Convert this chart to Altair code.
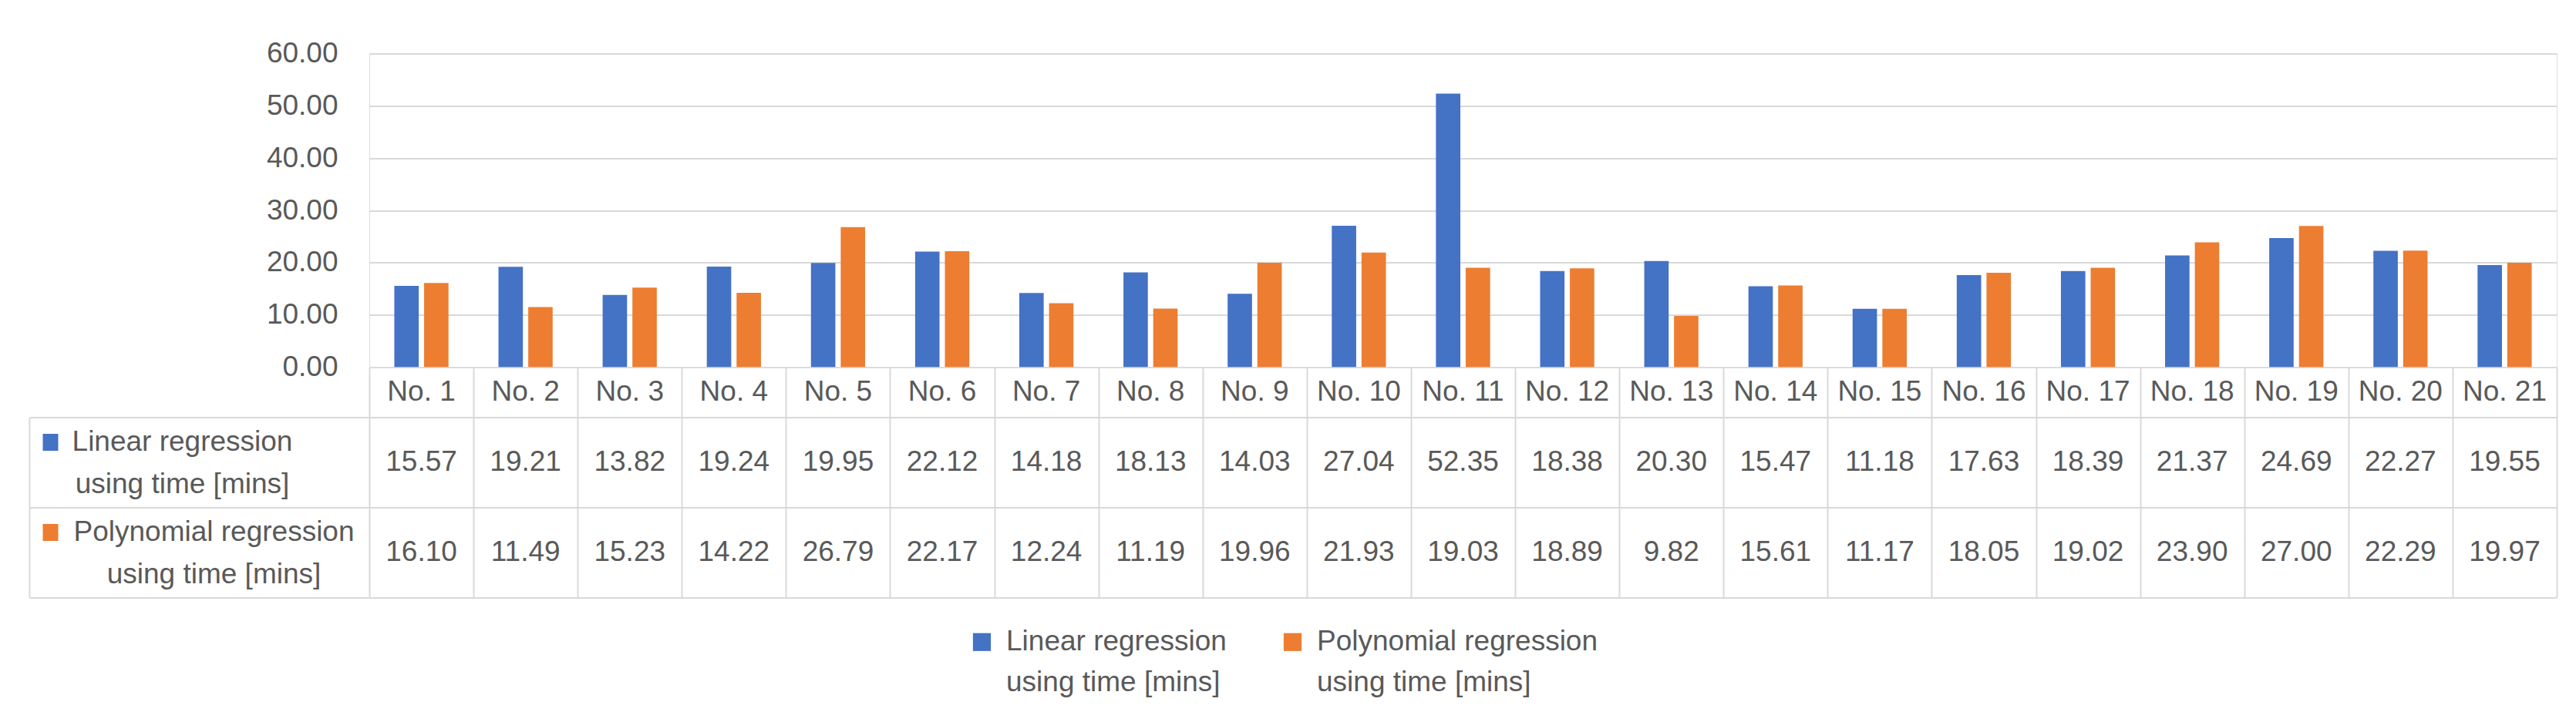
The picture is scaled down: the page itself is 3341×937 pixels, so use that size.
import altair as alt
import pandas as pd

# ---------------- data ----------------
categories = ["No. 1", "No. 2", "No. 3", "No. 4", "No. 5", "No. 6", "No. 7",
              "No. 8", "No. 9", "No. 10", "No. 11", "No. 12", "No. 13", "No. 14",
              "No. 15", "No. 16", "No. 17", "No. 18", "No. 19", "No. 20", "No. 21"]
series = ["Linear regression using time [mins]",
          "Polynomial regression using time [mins]"]
linear = [15.57, 19.21, 13.82, 19.24, 19.95, 22.12, 14.18, 18.13, 14.03, 27.04,
          52.35, 18.38, 20.30, 15.47, 11.18, 17.63, 18.39, 21.37, 24.69, 22.27, 19.55]
poly = [16.10, 11.49, 15.23, 14.22, 26.79, 22.17, 12.24, 11.19, 19.96, 21.93,
        19.03, 18.89, 9.82, 15.61, 11.17, 18.05, 19.02, 23.90, 27.00, 22.29, 19.97]
y_ticks = [0, 10, 20, 30, 40, 50, 60]

# ---------------- styles ----------------
FONT = "Liberation Sans"
FS = 37
TXT = "#595959"
GRID = "#D9D9D9"
BLUE = "#4472C4"
ORANGE = "#ED7D31"
PLOT_W = 2837

rows = []
for i, c in enumerate(categories):
    for s, vals in zip(series, [linear, poly]):
        rows.append({"category": c, "series": s, "value": vals[i],
                     "label": f"{vals[i]:.2f}"})
df = pd.DataFrame(rows)
cat_df = pd.DataFrame({"category": categories})

split_expr = "split(replace(datum.label, ' using', '|using'), '|')"
is_linear = f"datum.value == '{series[0]}'"

# ---------------- bar chart ----------------
bars = alt.Chart(df).mark_bar().encode(
    x=alt.X("category:N", sort=categories,
            scale=alt.Scale(paddingInner=0.48, paddingOuter=0.24), axis=None),
    xOffset=alt.XOffset("series:N", sort=series,
                        scale=alt.Scale(paddingInner=0.18, paddingOuter=0)),
    y=alt.Y("value:Q", scale=alt.Scale(domain=[0, 60], nice=False),
            axis=alt.Axis(title=None, values=y_ticks, format=".2f", domain=False,
                          ticks=False, grid=True, gridColor=GRID, gridWidth=2,
                          labelPadding=41, labelFont=FONT, labelFontSize=FS,
                          labelColor=TXT)),
    color=alt.Color("series:N", sort=series,
                    scale=alt.Scale(domain=series, range=[BLUE, ORANGE]),
                    legend=alt.Legend(title=None, orient="none", direction="horizontal",
                                      legendX=776, legendY=745,
                                      symbolType="square", symbolSize=540,
                                      symbolStrokeWidth=0, labelFont=FONT,
                                      labelFontSize=FS, labelColor=TXT, labelLimit=0,
                                      labelExpr=split_expr,
                                      labelOffset=13, columnPadding=67,
                                      labelBaseline="middle")),
).properties(width=PLOT_W, height=407)

# ---------------- header row of the data table ----------------
xcell = alt.X("category:N", sort=categories,
              scale=alt.Scale(paddingInner=0, paddingOuter=0),
              axis=alt.Axis(title=None, labels=False, ticks=False, domain=False,
                            grid=True, gridColor=GRID, gridWidth=2, tickBand="extent"))

header = alt.Chart(cat_df).mark_text(
    font=FONT, fontSize=FS, color=TXT, baseline="middle"
).encode(x=xcell, text="category:N").properties(width=PLOT_W, height=65)

# ---------------- data rows ----------------
base = alt.Chart(df).encode(x=xcell)
yscale = alt.Scale(paddingInner=0, paddingOuter=0)

values_layer = base.mark_text(font=FONT, fontSize=FS, color=TXT, baseline="middle").encode(
    y=alt.Y("series:N", sort=series, scale=yscale,
            axis=alt.Axis(title=None, orient="left", domain=False, ticks=True,
                          tickBand="extent", tickSize=441, tickWidth=2, tickColor=GRID,
                          grid=True, gridColor=GRID, gridWidth=2,
                          labelExpr=split_expr, labelAlign="center",
                          labelBaseline="middle", labelLineHeight=55,
                          labelOffset=-27,
                          labelPadding={"condition": {"test": is_linear, "value": -198},
                                        "value": -239},
                          labelFont=FONT, labelFontSize=FS, labelColor=TXT,
                          labelLimit=0)),
    text="label:N",
)

swatch_layer = base.mark_point(opacity=0, size=1).encode(
    y=alt.Y("series:N", sort=series, scale=yscale,
            axis=alt.Axis(title=None, orient="left", offset=404, labels=False,
                          domain=False, grid=False, ticks=True, tickSize=20,
                          tickWidth=22, tickOffset=-27,
                          tickColor={"condition": {"test": is_linear, "value": BLUE},
                                     "value": ORANGE})),
)

border_layer = base.mark_point(opacity=0, size=1).encode(
    y=alt.Y("series:N", sort=series, scale=yscale,
            axis=alt.Axis(title=None, orient="left", offset=441, labels=False,
                          ticks=False, grid=False, domain=True, domainColor=GRID,
                          domainWidth=2)),
)

table = alt.layer(values_layer, swatch_layer, border_layer).resolve_axis(
    y="independent").properties(width=PLOT_W, height=234)

chart = alt.vconcat(bars, header, table, spacing=0, bounds="flush").properties(
    padding={"left": 28, "top": 41.5, "right": 10, "bottom": 10}
).configure_view(stroke=None).configure_concat(spacing=0).configure(
    background="white", style={"guide-label": {"lineHeight": 53}})

chart.save("out.html", embed_options={"renderer": "svg", "actions": False})
